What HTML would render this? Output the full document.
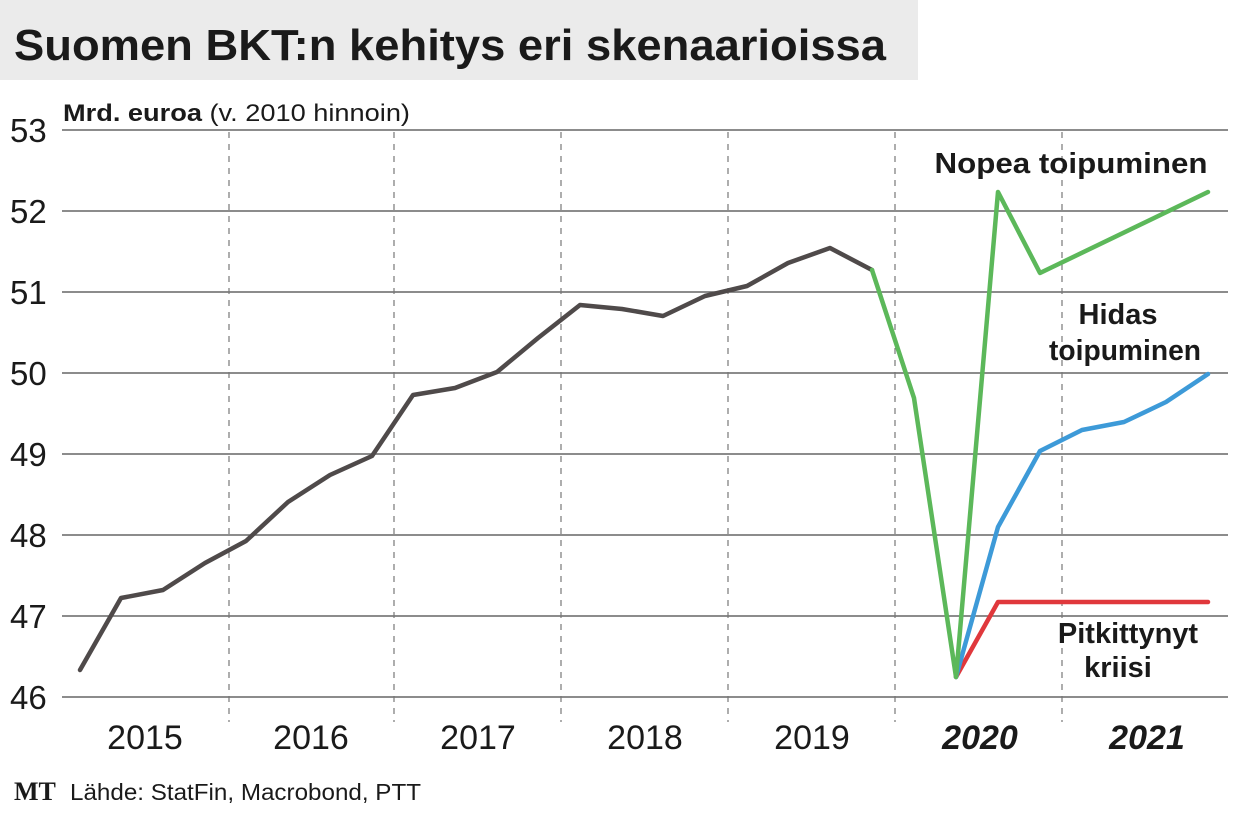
<!DOCTYPE html>
<html><head><meta charset="utf-8"><style>
body{margin:0;background:#fff;width:1240px;height:824px;overflow:hidden;font-family:"Liberation Sans",sans-serif}
</style></head><body>
<svg width="1240" height="824" xmlns="http://www.w3.org/2000/svg" font-family="Liberation Sans, sans-serif">
<rect x="0" y="0" width="918" height="80" fill="#ebebeb"/>
<text x="14" y="60" font-size="44" font-weight="bold" fill="#1a1a1a" textLength="872" lengthAdjust="spacingAndGlyphs">Suomen BKT:n kehitys eri skenaarioissa</text>
<text x="63" y="121" font-size="24" fill="#1a1a1a" textLength="347" lengthAdjust="spacingAndGlyphs"><tspan font-weight="bold">Mrd. euroa</tspan> (v. 2010 hinnoin)</text>
<g stroke="#666" stroke-width="1.5">
<line x1="62" y1="130" x2="1228" y2="130"/><line x1="62" y1="211" x2="1228" y2="211"/>
<line x1="62" y1="292" x2="1228" y2="292"/><line x1="62" y1="373" x2="1228" y2="373"/>
<line x1="62" y1="454" x2="1228" y2="454"/><line x1="62" y1="535" x2="1228" y2="535"/>
<line x1="62" y1="616" x2="1228" y2="616"/><line x1="62" y1="697" x2="1228" y2="697"/>
</g>
<g stroke="#777" stroke-width="1.2" stroke-dasharray="6,6">
<line x1="229" y1="132" x2="229" y2="722"/><line x1="394" y1="132" x2="394" y2="722"/>
<line x1="561" y1="132" x2="561" y2="722"/><line x1="728" y1="132" x2="728" y2="722"/>
<line x1="895" y1="132" x2="895" y2="722"/><line x1="1062" y1="132" x2="1062" y2="722"/>
</g>
<g font-size="33" fill="#1a1a1a">
<text x="10" y="142">53</text><text x="10" y="223">52</text><text x="10" y="304">51</text>
<text x="10" y="385">50</text><text x="10" y="466">49</text><text x="10" y="547">48</text>
<text x="10" y="628">47</text><text x="10" y="709">46</text>
</g>
<g font-size="34" fill="#1a1a1a" text-anchor="middle">
<text x="145" y="749">2015</text><text x="311" y="749">2016</text><text x="478" y="749">2017</text>
<text x="645" y="749">2018</text><text x="812" y="749">2019</text>
<text x="980" y="749" font-weight="bold" font-style="italic">2020</text>
<text x="1147" y="749" font-weight="bold" font-style="italic">2021</text>
</g>
<g fill="none" stroke-width="4.5" stroke-linejoin="round" stroke-linecap="round">
<polyline stroke="#e0383c" points="956,677 998,602 1208,602"/>
<polyline stroke="#3d9ad8" points="956,677 998,527 1040,451 1082,430 1124,422 1166,402 1208,374"/>
<polyline stroke="#4f4a4a" points="80,670 121,598 163,590 205,563 246,541 288,502 330,475 372,456 413,395 455,388 497,372 538,338 580,305 622,309 663,316 705,296 747,286 788,263 830,248 872,270"/>
<polyline stroke="#5cb85a" points="872,270 914,398 956,677 998,192 1040,273 1208,192"/>
</g>
<g font-size="29" font-weight="bold" fill="#1a1a1a" text-anchor="middle">
<text x="1071" y="173" textLength="273" lengthAdjust="spacingAndGlyphs">Nopea toipuminen</text>
<text x="1118" y="324">Hidas</text><text x="1125" y="360" textLength="152" lengthAdjust="spacingAndGlyphs">toipuminen</text>
<text x="1128" y="643">Pitkittynyt</text><text x="1118" y="677">kriisi</text>
</g>
<text x="14" y="800" font-size="26" font-weight="bold" font-family="Liberation Serif, serif" fill="#1a1a1a">MT</text>
<text x="70" y="800" font-size="23" fill="#1a1a1a" textLength="351" lengthAdjust="spacingAndGlyphs">Lähde: StatFin, Macrobond, PTT</text>
</svg>
</body></html>
